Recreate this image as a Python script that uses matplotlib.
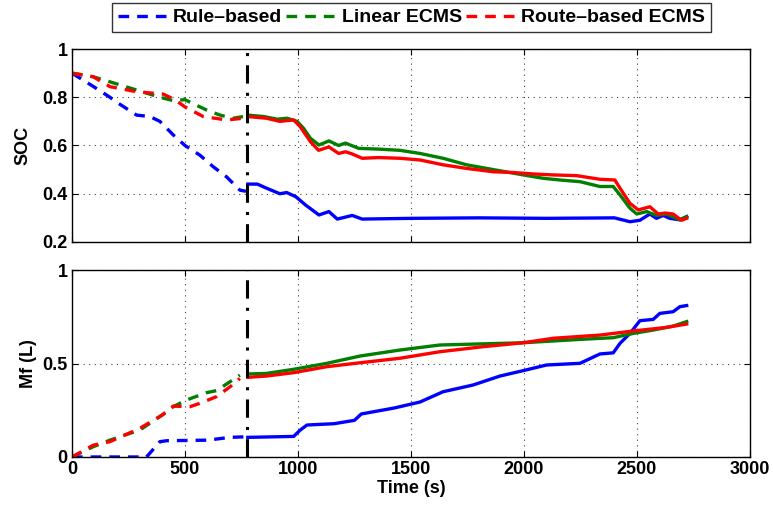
import numpy as np
import matplotlib
matplotlib.use("Agg")
import matplotlib.pyplot as plt

plt.rcParams['font.family'] = ['Liberation Sans', 'DejaVu Sans']
plt.rcParams['font.weight'] = 'bold'

# switch time between the two parts (dashed before, solid after)
t_switch = 775

# ---- SOC, rule-based ----
soc_rb_t1 = [0, 94, 168, 197, 286, 345, 389, 448, 500, 566, 625, 684, 743, 770]
soc_rb_v1 = [0.90, 0.845, 0.80, 0.78, 0.726, 0.72, 0.70, 0.644, 0.60, 0.56, 0.512, 0.47, 0.415, 0.41]
soc_rb_t2 = [778, 820, 861, 920, 950, 990, 1034, 1093, 1137, 1174, 1240, 1284, 1500, 1800, 2100, 2400,
             2469, 2513, 2557, 2586, 2616, 2645, 2690, 2720]
soc_rb_v2 = [0.44, 0.44, 0.423, 0.40, 0.405, 0.388, 0.353, 0.312, 0.326, 0.295, 0.31, 0.295, 0.298, 0.30,
             0.298, 0.30, 0.284, 0.29, 0.316, 0.298, 0.31, 0.298, 0.292, 0.305]

# ---- SOC, linear ECMS ----
soc_li_t1 = [0, 94, 168, 286, 389, 448, 500, 537, 596, 655, 714, 758]
soc_li_v1 = [0.90, 0.885, 0.864, 0.83, 0.80, 0.786, 0.79, 0.773, 0.747, 0.726, 0.713, 0.72]
soc_li_t2 = [778, 849, 908, 952, 996, 1025, 1055, 1093, 1137, 1180, 1210, 1269, 1357, 1451, 1540, 1642,
             1746, 1835, 1997, 2085, 2159, 2248, 2336, 2395, 2425, 2469, 2499, 2543, 2586, 2630, 2690, 2720]
soc_li_v2 = [0.726, 0.72, 0.709, 0.713, 0.70, 0.671, 0.63, 0.602, 0.619, 0.60, 0.61, 0.588, 0.585, 0.58,
             0.567, 0.547, 0.52, 0.505, 0.478, 0.464, 0.457, 0.45, 0.43, 0.43, 0.395, 0.34, 0.316, 0.326,
             0.31, 0.316, 0.292, 0.305]

# ---- SOC, route-based ECMS ----
soc_ro_t1 = [0, 94, 168, 286, 404, 455, 500, 581, 684, 758]
soc_ro_v1 = [0.90, 0.885, 0.844, 0.823, 0.813, 0.79, 0.76, 0.72, 0.706, 0.713]
soc_ro_t2 = [778, 861, 920, 981, 1010, 1055, 1091, 1137, 1180, 1210, 1240, 1284, 1357, 1451, 1540, 1642,
             1746, 1865, 1953, 2041, 2130, 2233, 2336, 2402, 2425, 2469, 2506, 2557, 2594, 2624, 2660,
             2697, 2720]
soc_ro_v2 = [0.72, 0.713, 0.70, 0.706, 0.678, 0.616, 0.58, 0.594, 0.567, 0.574, 0.565, 0.547, 0.55, 0.547,
             0.54, 0.52, 0.505, 0.491, 0.488, 0.482, 0.478, 0.475, 0.46, 0.457, 0.423, 0.36, 0.333, 0.346,
             0.316, 0.32, 0.316, 0.29, 0.298]

# ---- fuel, rule-based ----
mf_rb_t1 = [0, 330, 389, 420, 600, 700, 770]
mf_rb_v1 = [0.0, 0.0, 0.082, 0.087, 0.09, 0.105, 0.108]
mf_rb_t2 = [778, 981, 1010, 1040, 1160, 1250, 1280, 1426, 1540, 1642, 1775, 1894, 1997, 2100, 2248,
            2336, 2395, 2425, 2469, 2513, 2572, 2601, 2660, 2690, 2720]
mf_rb_v2 = [0.105, 0.11, 0.144, 0.171, 0.178, 0.196, 0.23, 0.262, 0.294, 0.349, 0.385, 0.433, 0.462,
            0.492, 0.501, 0.551, 0.557, 0.608, 0.661, 0.729, 0.736, 0.768, 0.777, 0.804, 0.81]

# ---- fuel, linear ECMS ----
mf_li_t1 = [0, 94, 168, 300, 400, 448, 507, 596, 640, 700, 743]
mf_li_v1 = [0.0, 0.055, 0.09, 0.144, 0.225, 0.269, 0.305, 0.344, 0.355, 0.403, 0.438]
mf_li_t2 = [778, 861, 981, 1128, 1275, 1451, 1628, 1997, 2248, 2395, 2484, 2572, 2660, 2720]
mf_li_v2 = [0.444, 0.447, 0.469, 0.501, 0.54, 0.572, 0.599, 0.611, 0.629, 0.638, 0.661, 0.679, 0.70, 0.724]

# ---- fuel, route-based ECMS ----
mf_ro_t1 = [0, 94, 168, 300, 400, 448, 522, 566, 640, 700, 743]
mf_ro_v1 = [0.0, 0.063, 0.082, 0.153, 0.225, 0.272, 0.269, 0.287, 0.323, 0.376, 0.42]
mf_ro_t2 = [778, 861, 981, 1128, 1275, 1451, 1628, 1820, 1997, 2130, 2336, 2484, 2630, 2720]
mf_ro_v2 = [0.426, 0.433, 0.451, 0.483, 0.504, 0.528, 0.563, 0.59, 0.611, 0.635, 0.652, 0.674, 0.693, 0.711]

labels = ['Rule–based', 'Linear ECMS', 'Route–based ECMS']
colors = ['#0000ff', '#007f00', '#ff0000']

fig = plt.figure(figsize=(7.73, 5.09), dpi=100)
ax1 = fig.add_axes([0.0931, 0.5246, 0.8771, 0.3791])
ax2 = fig.add_axes([0.0931, 0.1022, 0.8771, 0.3673])

lw = 2.4
dash = (3.2, 2.4)
fs = 13

soc_sets = [(soc_rb_t1, soc_rb_v1, soc_rb_t2, soc_rb_v2),
            (soc_li_t1, soc_li_v1, soc_li_t2, soc_li_v2),
            (soc_ro_t1, soc_ro_v1, soc_ro_t2, soc_ro_v2)]
mf_sets = [(mf_rb_t1, mf_rb_v1, mf_rb_t2, mf_rb_v2),
           (mf_li_t1, mf_li_v1, mf_li_t2, mf_li_v2),
           (mf_ro_t1, mf_ro_v1, mf_ro_t2, mf_ro_v2)]

handles = []
for ax, sets in [(ax1, soc_sets), (ax2, mf_sets)]:
    for (t1, v1, t2, v2), c, lab in zip(sets, colors, labels):
        h, = ax.plot(t1, v1, color=c, lw=lw, dashes=dash, label=lab)
        ax.plot(t2, v2, color=c, lw=lw)
        if ax is ax1:
            handles.append(h)
    ax.axvline(t_switch, color='k', lw=2.2, linestyle=(0, (6, 3, 1, 3)))
    ax.set_xlim(0, 3000)
    ax.grid(True, linestyle=(0, (1, 4)), color='#444444', lw=0.8)
    ax.tick_params(direction='in', top=True, right=True, labelsize=fs, length=4, pad=3)
    for s in ax.spines.values():
        s.set_linewidth(1.0)

ax1.set_ylim(0.2, 1)
ax1.set_yticks([0.2, 0.4, 0.6, 0.8, 1.0])
ax1.set_yticklabels(['0.2', '0.4', '0.6', '0.8', '1'])
ax1.set_xticks([0, 500, 1000, 1500, 2000, 2500, 3000])
ax1.set_xticklabels([])
ax1.set_ylabel('SOC', fontsize=fs, fontweight='bold', labelpad=8)

ax2.set_ylim(0, 1)
ax2.set_yticks([0, 0.5, 1])
ax2.set_yticklabels(['0', '0.5', '1'])
ax2.set_xticks([0, 500, 1000, 1500, 2000, 2500, 3000])
ax2.set_ylabel('Mf (L)', fontsize=fs, fontweight='bold', labelpad=4)
ax2.set_xlabel('Time (s)', fontsize=fs, fontweight='bold', labelpad=1)

leg = fig.legend(handles=handles, loc='center', bbox_to_anchor=(0.532, 0.9656), ncol=3,
                 fontsize=14, frameon=True, fancybox=False, edgecolor='k',
                 handlelength=2.65, columnspacing=0.2, handletextpad=0.2, borderpad=0.3)
leg.get_frame().set_linewidth(1.0)

fig.savefig('out.png', dpi=100)
